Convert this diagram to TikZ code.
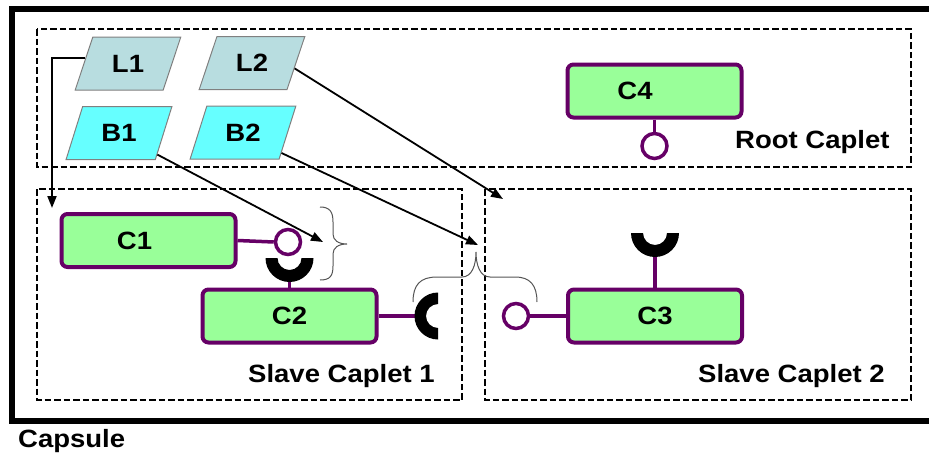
\documentclass[tikz,border=0pt]{standalone}
\usepackage{fontspec}
\newfontfamily\labfont{Liberation Sans}[FakeStretch=1.1]
\usetikzlibrary{arrows.meta,shapes.geometric,calc}
\definecolor{cappurple}{HTML}{660066}
\definecolor{capgreen}{HTML}{99FF99}
\definecolor{lfill}{HTML}{B8DDE0}
\definecolor{bfill}{HTML}{66FFFF}
\definecolor{bracegray}{HTML}{555555}

\begin{document}
\begin{tikzpicture}[x=1pt,y=-1pt,
  lab/.style={font=\labfont\bfseries\fontsize{25}{30}\selectfont},
  caplet/.style={draw=black,line width=2.4pt,dash pattern=on 6.5pt off 3pt},
  comp/.style={lab,draw=cappurple,line width=4pt,fill=capgreen,rounded corners=6pt,
    minimum width=174pt,minimum height=53pt,inner sep=0pt},
  port/.style={circle,draw=cappurple,line width=3.5pt,fill=white,minimum size=25pt,inner sep=0pt},
  wire/.style={draw=cappurple,line width=3.5pt},
  para/.style={lab,trapezium,trapezium left angle=65,trapezium right angle=115,
    trapezium stretches=true,minimum width=106pt,minimum height=53pt,inner sep=0pt,
    draw=gray,line width=1pt},
  arr/.style={line width=1.8pt,-{Triangle[length=12pt,width=9pt]}},
  curly/.style={draw=bracegray,line width=1pt},
  sock/.style={fill=black},
  txt/.style={lab,anchor=base west,inner sep=0pt},
]
\useasboundingbox (0,0) rectangle (929,455);

% capsule frame (open to the right)
\draw[line width=5.5pt] (940,9) -- (12,9) -- (12,421) -- (940,421);
\node[txt] (capsule) at (18,447) {Capsule};

% caplets
\draw[caplet] (37,29) rectangle (911,167);
\draw[caplet] (37,189) rectangle (462,400);
\draw[caplet] (485,189) rectangle (911,400);
\node[txt] (root) at (735,148) {Root Caplet};
\node[txt] (slave1) at (248,382) {Slave Caplet 1};
\node[txt] (slave2) at (698,382) {Slave Caplet 2};

% layers and bindings
\node[para,fill=lfill] (L1) at (128,63.5) {L1};
\node[para,fill=lfill] (L2) at (252,63) {L2};
\node[para,fill=bfill] (B1) at (119,133) {B1};
\node[para,fill=bfill] (B2) at (243,132.5) {B2};

% components
\node[comp] (C1) at (148.5,240.5) {\hspace*{-28pt}C1};
\node[comp] (C2) at (289.5,316) {C2};
\node[comp] (C3) at (655,316) {C3};
\node[comp] (C4) at (654.5,91) {\hspace*{-39pt}C4};

% provided ports
\node[port] (P1) at (288,242) {};
\node[port] (P3) at (516,316) {};
\node[port] (P4) at (654.5,146) {};
\draw[wire] (C1.east) -- (P1.west);
\draw[wire] (C3.west) -- (P3.east);
\draw[wire] (C4.south) -- (P4.north);

% required ports
\coordinate (R2) at (289.5,258);
\coordinate (R2b) at (438,316);
\coordinate (R3) at (655,233);
\draw[wire] (C2.north) -- ($(R2)+(0,24)$);
\draw[wire] (C2.east) -- ($(R2b)+(-22,0)$);
\draw[wire] (C3.north) -- ($(R3)+(0,24)$);
\fill[sock] ($(R2)+(-24,0)$) arc[start angle=180,end angle=0,radius=24]
  -- ($(R2)+(12,0)$) arc[start angle=0,end angle=180,radius=12] -- cycle;
\fill[sock] ($(R3)+(-24,0)$) arc[start angle=180,end angle=0,radius=24]
  -- ($(R3)+(12,0)$) arc[start angle=0,end angle=180,radius=12] -- cycle;
\fill[sock] ($(R2b)+(0,-23.5)$) arc[start angle=270,end angle=90,radius=23.5]
  -- ($(R2b)+(0,12)$) arc[start angle=90,end angle=270,radius=12] -- cycle;

% braces
\draw[curly] (320,207) .. controls (330,207) and (333,212) .. (333,222) -- (333,234)
  .. controls (333,240) and (338,244) .. (347,244)
  .. controls (338,244) and (333,248) .. (333,254) -- (333,266)
  .. controls (333,276) and (330,280) .. (320,280);
\draw[curly] (413,302) .. controls (413,285) and (420,277) .. (437,277) -- (462,277)
  .. controls (472,277) and (476,265) .. (476,252)
  .. controls (476,265) and (480,277) .. (490,277) -- (515,277)
  .. controls (530,277) and (537,285) .. (537,302);

% binding arrows
\coordinate (T1) at (52,208);
\coordinate (T2) at (503,199);
\coordinate (T3) at (323,242);
\coordinate (T4) at (478,245);
\draw[arr] ($(L1.bottom left corner)!0.6!(L1.top left corner)$) -| (T1);
\draw[arr] ($(L2.bottom right corner)!0.4!(L2.top right corner)$) -- (T2);
\draw[arr] ($(B1.bottom right corner)!0.1!(B1.top right corner)$) -- (T3);
\draw[arr] ($(B2.bottom right corner)!0.12!(B2.top right corner)$) -- (T4);
\end{tikzpicture}
\end{document}
